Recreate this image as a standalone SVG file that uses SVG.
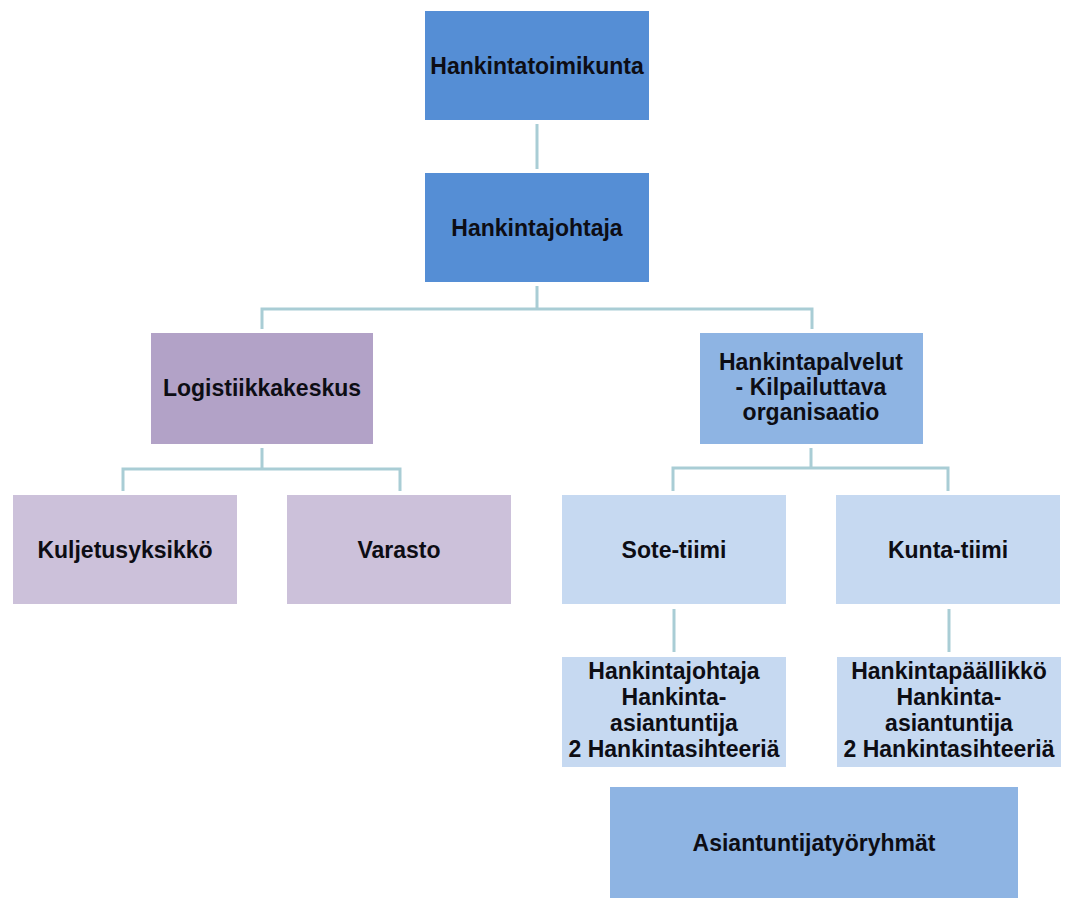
<svg xmlns="http://www.w3.org/2000/svg" width="1069" height="898" viewBox="0 0 1069 898">
<style>
text{font-family:"Liberation Sans",Arial,sans-serif;font-weight:bold;font-size:23px;fill:#0d0d14;text-anchor:middle}
.c{stroke:#a9cdd5;stroke-width:3;fill:none}
.b1{fill:#558ed5}.b2{fill:#8eb4e3}.b3{fill:#c6d9f1}.p1{fill:#b2a2c7}.p2{fill:#ccc1da}
</style>
<rect width="1069" height="898" fill="#ffffff"/>
<g id="connectors">
<path class="c" d="M537 124V169"/>
<path class="c" d="M537 286V309M262 329V309H812V329"/>
<path class="c" d="M262 448V469M123 491V469H400V491"/>
<path class="c" d="M811 448V468M673 491V468H948V491"/>
<path class="c" d="M674 609V652"/>
<path class="c" d="M949 609V652"/>
</g>
<g id="n1"><rect class="b1" x="425" y="11" width="224" height="109"/><text x="537" y="74">Hankintatoimikunta</text></g>
<g id="n2"><rect class="b1" x="425" y="173" width="224" height="109"/><text x="537" y="236">Hankintajohtaja</text></g>
<g id="n3"><rect class="p1" x="151" y="333" width="222" height="111"/><text x="262" y="396">Logistiikkakeskus</text></g>
<g id="n4"><rect class="b2" x="700" y="333" width="223" height="111"/><text x="811" y="370">Hankintapalvelut</text><text x="811" y="395">- Kilpailuttava</text><text x="811" y="420">organisaatio</text></g>
<g id="n5"><rect class="p2" x="13" y="495" width="224" height="109"/><text x="125" y="558">Kuljetusyksikkö</text></g>
<g id="n6"><rect class="p2" x="287" y="495" width="224" height="109"/><text x="399" y="558">Varasto</text></g>
<g id="n7"><rect class="b3" x="562" y="495" width="224" height="109"/><text x="674" y="558">Sote-tiimi</text></g>
<g id="n8"><rect class="b3" x="836" y="495" width="224" height="109"/><text x="948" y="558">Kunta-tiimi</text></g>
<g id="n9"><rect class="b3" x="562" y="657" width="224" height="110"/><text x="674" y="679">Hankintajohtaja</text><text x="674" y="705">Hankinta-</text><text x="674" y="731">asiantuntija</text><text x="674" y="757">2 Hankintasihteeriä</text></g>
<g id="n10"><rect class="b3" x="837" y="657" width="224" height="110"/><text x="949" y="679">Hankintapäällikkö</text><text x="949" y="705">Hankinta-</text><text x="949" y="731">asiantuntija</text><text x="949" y="757">2 Hankintasihteeriä</text></g>
<g id="n11"><rect class="b2" x="610" y="787" width="408" height="111"/><text x="814" y="851">Asiantuntijatyöryhmät</text></g>
</svg>
